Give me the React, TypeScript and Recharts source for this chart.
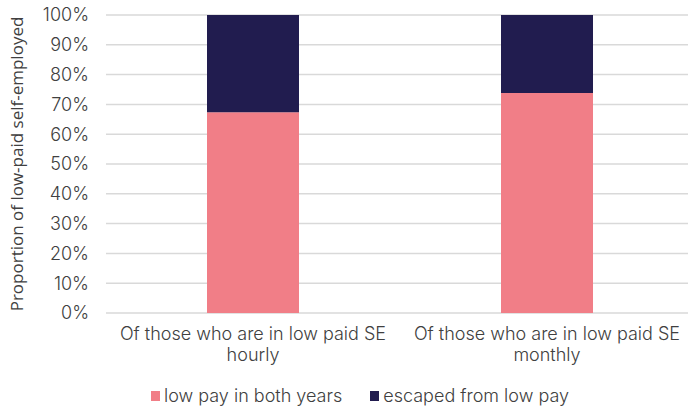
import React from "react";
import { BarChart, Bar, XAxis, YAxis, CartesianGrid, Legend } from "recharts";

const categories = [
  "Of those who are in low paid SE hourly",
  "Of those who are in low paid SE monthly",
];
const lowPayBoth = [67.4, 73.8];
const escaped = [32.6, 26.2];
const yTicks = [0, 10, 20, 30, 40, 50, 60, 70, 80, 90, 100];

const PINK = "#F17E87";
const NAVY = "#211C4F";
const TEXT = "#404040";
const FONT = "Inter, Roboto, sans-serif";
const LABEL_FONT = "'Open Sans', 'Noto Sans', sans-serif";

const data = categories.map((c, i) => ({
  name: c,
  both: lowPayBoth[i],
  escaped: escaped[i],
}));

function WrappedTick({ x, y, payload }: any) {
  const words = String(payload.value).split(" ");
  const line2 = words.pop();
  const line1 = words.join(" ");
  return (
    <g transform={`translate(${x},${y})`}>
      <text textAnchor="middle" fill={TEXT} fontSize={18} fontWeight={300} fontFamily={FONT}>
        <tspan x={0} dy={19}>{line1}</tspan>
        <tspan x={0} dy={21}>{line2}</tspan>
      </text>
    </g>
  );
}

function LegendContent() {
  const items = [
    { label: "low pay in both years", color: PINK },
    { label: "escaped from low pay", color: NAVY },
  ];
  return (
    <div
      style={{
        display: "flex",
        justifyContent: "center",
        gap: 28,
        fontFamily: FONT,
        fontWeight: 300,
        fontSize: 18,
        color: TEXT,
        paddingLeft: 32,
        lineHeight: "22px",
      }}
    >
      {items.map((it) => (
        <div key={it.label} style={{ display: "flex", alignItems: "center" }}>
          <span
            style={{
              display: "inline-block",
              width: 9,
              height: 10,
              background: it.color,
              marginRight: 4,
            }}
          />
          <span>{it.label}</span>
        </div>
      ))}
    </div>
  );
}

export default function App() {
  return (
    <div style={{ position: "absolute", left: 0, top: 0, width: 688, height: 409, overflow: "hidden", background: "#fff" }}>
      <BarChart
        width={694}
        height={409}
        data={data}
        margin={{ top: 15, right: 0, bottom: 0, left: 0 }}
      >
        <CartesianGrid vertical={false} stroke="#D9D9D9" strokeWidth={1.5} />
        <XAxis
          dataKey="name"
          axisLine={false}
          tickLine={false}
          tick={<WrappedTick />}
          interval={0}
          height={74}
        />
        <YAxis
          domain={[0, 100]}
          ticks={yTicks}
          tickFormatter={(v) => `${v}%`}
          axisLine={false}
          tickLine={false}
          tickSize={0}
          tickMargin={17}
          width={106}
          tick={{ fill: TEXT, fontSize: 18, fontWeight: 300, fontFamily: FONT }}
          label={{
            value: "Proportion of low-paid self-employed",
            angle: -90,
            position: "insideLeft",
            dx: 12,
            style: { textAnchor: "middle", fill: TEXT, fontSize: 17, fontFamily: LABEL_FONT },
          }}
        />
        <Legend
          verticalAlign="bottom"
          content={<LegendContent />}
          wrapperStyle={{ top: 385, left: 0, width: 688, height: 22 }}
        />
        <Bar dataKey="both" name="low pay in both years" stackId="a" fill={PINK} barSize={92} isAnimationActive={false} />
        <Bar dataKey="escaped" name="escaped from low pay" stackId="a" fill={NAVY} barSize={92} isAnimationActive={false} />
      </BarChart>
    </div>
  );
}
